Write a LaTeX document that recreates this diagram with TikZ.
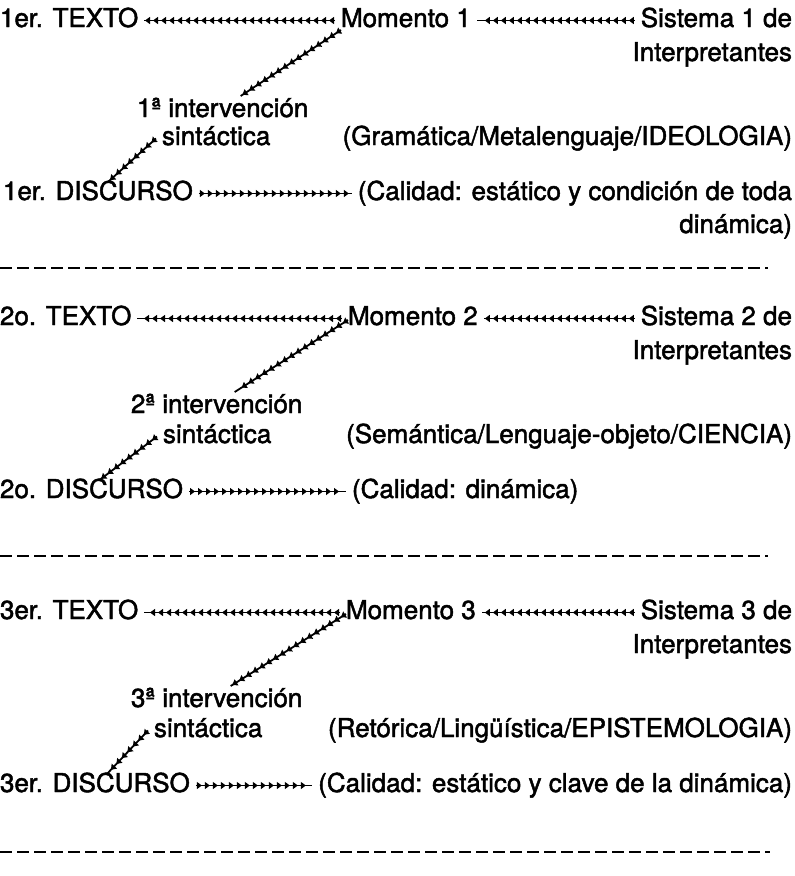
\documentclass[tikz,border=0pt]{standalone}
\usepackage{fontspec}
\setmainfont{TeX Gyre Heros}[FakeBold = 1.8]
\usetikzlibrary{arrows.meta,decorations.markings}
\tikzset{
  lbl/.style = {inner sep = 0pt, outer xsep = 6pt, outer ysep = 0pt, font = \fontsize{26}{30}\selectfont, text height = 18pt, text depth = 5pt},
  chain/.style = {line width = 1.8pt, decoration = {markings, mark = between positions 6pt and -0.5pt step 8pt with {\arrow{Triangle[length = 5pt, width = 7pt]}}}, postaction = {decorate}},
  cutline/.style = {line width = 1.8pt, dash pattern = on 12pt off 5pt}
}
\begin{document}
\begin{tikzpicture}[x = 1pt, y = -1pt]
\useasboundingbox (0,0) rectangle (795,876);
% primer momento
\node[lbl, anchor = base west] (txt1) at (-6,27) {1er. TEXTO};
\node[lbl, anchor = base west] (mom1) at (335,27) {Momento 1};
\node[lbl, anchor = base east] (sis1) at (798,27) {Sistema 1 de};
\node[lbl, anchor = base east] (itp1) at (798,61) {Interpretantes};
\node[lbl, anchor = base west] (ivn1) at (131,117) {1ª intervención};
\node[lbl, anchor = base west] (sin1) at (156,145) {sintáctica};
\node[lbl, anchor = base east] (gra1) at (798,145) {(Gramática/Metalenguaje/IDEOLOGIA)};
\node[lbl, anchor = base west] (dis1) at (-3,200) {1er. DISCURSO};
\node[lbl, anchor = base east] (cal1) at (798,200) {(Calidad: estático y condición de toda};
\node[lbl, anchor = base east] (din1) at (798,233) {dinámica)};
\draw[chain] (mom1) -- (txt1);
\draw[chain] (sis1) -- (mom1);
\draw[chain] ([xshift = 6pt, yshift = 2pt]mom1.south west) -- ([xshift = 18pt, yshift = 3pt]ivn1.north);
\draw[chain] (sin1.west) -- ([xshift = 10pt]dis1.north);
\draw[chain] (dis1) -- (cal1);
\draw[cutline] (0,268) -- (768,268);
% segundo momento
\node[lbl, anchor = base west] (txt2) at (-6,325) {2o. TEXTO};
\node[lbl, anchor = base west] (mom2) at (342,325) {Momento 2};
\node[lbl, anchor = base east] (sis2) at (798,325) {Sistema 2 de};
\node[lbl, anchor = base east] (itp2) at (798,359) {Interpretantes};
\node[lbl, anchor = base west] (ivn2) at (125,413) {2ª intervención};
\node[lbl, anchor = base west] (sin2) at (157,443) {sintáctica};
\node[lbl, anchor = base east] (sem2) at (798,443) {(Semántica/Lenguaje-objeto/CIENCIA)};
\node[lbl, anchor = base west] (dis2) at (-6,498) {2o. DISCURSO};
\node[lbl, anchor = base west] (cal2) at (346,498) {(Calidad: dinámica)};
\draw[chain] (mom2) -- (txt2);
\draw[chain] (sis2) -- (mom2);
\draw[chain] ([xshift = 6pt, yshift = 10pt]mom2.south west) -- ([xshift = 18pt, yshift = 3pt]ivn2.north);
\draw[chain] (sin2.west) -- ([xshift = 8pt]dis2.north);
\draw[chain] (dis2) -- (cal2);
\draw[cutline] (0,556) -- (768,556);
% tercer momento
\node[lbl, anchor = base west] (txt3) at (-6,619) {3er. TEXTO};
\node[lbl, anchor = base west] (mom3) at (340,619) {Momento 3};
\node[lbl, anchor = base east] (sis3) at (798,619) {Sistema 3 de};
\node[lbl, anchor = base east] (itp3) at (798,653) {Interpretantes};
\node[lbl, anchor = base west] (ivn3) at (125,707) {3ª intervención};
\node[lbl, anchor = base west] (sin3) at (148,737) {sintáctica};
\node[lbl, anchor = base east] (ret3) at (798,737) {(Retórica/Lingüística/EPISTEMOLOGIA)};
\node[lbl, anchor = base west] (dis3) at (-6,792) {3er. DISCURSO};
\node[lbl, anchor = base east] (cal3) at (798,792) {(Calidad: estático y clave de la dinámica)};
\draw[chain] (mom3) -- (txt3);
\draw[chain] (sis3) -- (mom3);
\draw[chain] ([xshift = 6pt, yshift = 10pt]mom3.south west) -- ([xshift = 14pt, yshift = 3pt]ivn3.north);
\draw[chain] (sin3.west) -- ([xshift = 12pt]dis3.north);
\draw[chain] (dis3) -- (cal3);
\draw[cutline] (0,852) -- (770,852);
\end{tikzpicture}
\end{document}
